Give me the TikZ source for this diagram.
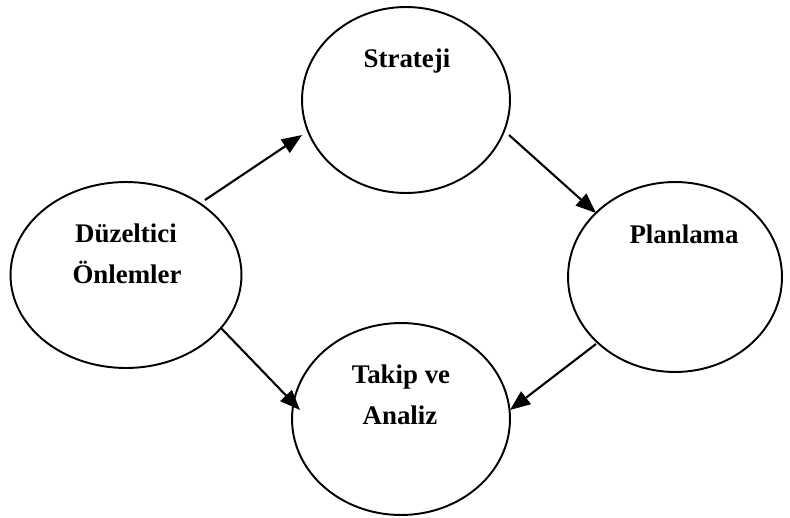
\documentclass[tikz,border=0pt]{standalone}
\usepackage{fontspec}
\setmainfont{Liberation Serif}
\usetikzlibrary{shapes.geometric,arrows.meta}
\begin{document}
\begin{tikzpicture}[x=0.02cm,y=-0.02cm,
  stage/.style={ellipse,draw=black,line width=1.1pt,inner sep=0pt},
  caption/.style={anchor=base,font=\fontsize{15.3}{18}\selectfont\bfseries,inner sep=0pt},
  flow/.style={line width=1.2pt,-{Triangle[length=11.5pt,width=9pt]}}]
  \useasboundingbox (0,0) rectangle (790,517);

  % cycle stages
  \node[stage,minimum width=4.16cm,minimum height=3.72cm] (st) at (406,100) {};
  \node[stage,minimum width=4.62cm,minimum height=3.72cm] (dz) at (126,275) {};
  \node[stage,minimum width=4.28cm,minimum height=3.80cm] (pl) at (675,277) {};
  \node[stage,minimum width=4.36cm,minimum height=3.84cm] (tk) at (401,419) {};

  % stage titles
  \node[caption] (stT) at (407,68) {Strateji};
  \node[caption] (dzT1) at (126,242) {Düzeltici};
  \node[caption] (dzT2) at (127,283) {Önlemler};
  \node[caption] (plT) at (684,243) {Planlama};
  \node[caption] (tkT1) at (401,383) {Takip ve};
  \node[caption] (tkT2) at (400,424) {Analiz};

  % connector end points
  \coordinate (a1s) at (205,200);
  \coordinate (a1e) at (302,135);
  \coordinate (a2s) at (509,135);
  \coordinate (a2e) at (596,213);
  \coordinate (a3s) at (596,344);
  \coordinate (a3e) at (510,410);
  \coordinate (a4s) at (221,328);
  \coordinate (a4e) at (300,410);

  \draw[flow] (a1s) -- (a1e);
  \draw[flow] (a2s) -- (a2e);
  \draw[flow] (a3s) -- (a3e);
  \draw[flow] (a4s) -- (a4e);
\end{tikzpicture}
\end{document}
